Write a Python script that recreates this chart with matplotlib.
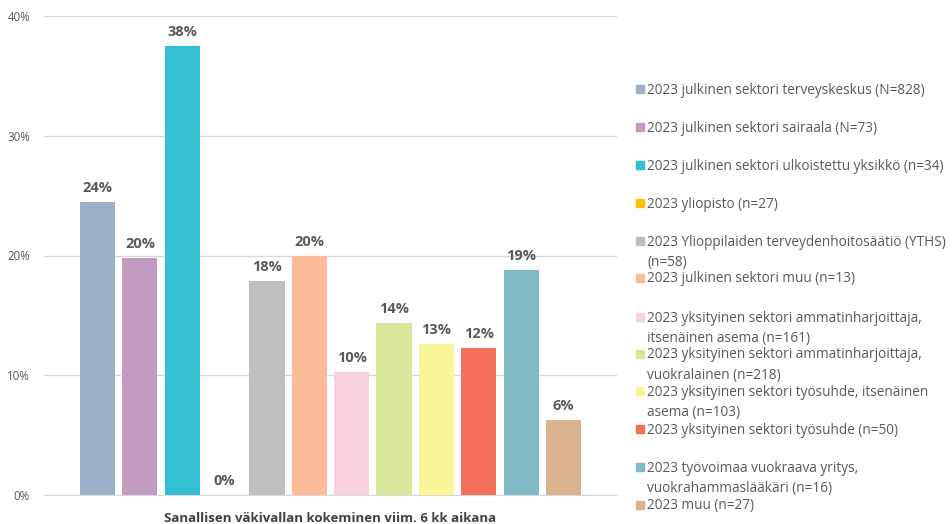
import matplotlib
matplotlib.use("Agg")
import matplotlib.pyplot as plt
from matplotlib.patches import Rectangle
from matplotlib.ticker import PercentFormatter

plt.rcParams["font.family"] = ["Open Sans", "DejaVu Sans"]

labels = [
    "2023 julkinen sektori terveyskeskus (N=828)",
    "2023 julkinen sektori sairaala (N=73)",
    "2023 julkinen sektori ulkoistettu yksikkö (n=34)",
    "2023 yliopisto (n=27)",
    "2023 Ylioppilaiden terveydenhoitosäätiö (YTHS)\n(n=58)",
    "2023 julkinen sektori muu (n=13)",
    "2023 yksityinen sektori ammatinharjoittaja,\nitsenäinen asema (n=161)",
    "2023 yksityinen sektori ammatinharjoittaja,\nvuokralainen (n=218)",
    "2023 yksityinen sektori työsuhde, itsenäinen\nasema (n=103)",
    "2023 yksityinen sektori työsuhde (n=50)",
    "2023 työvoimaa vuokraava yritys,\nvuokrahammaslääkäri (n=16)",
    "2023 muu (n=27)",
]
values = [0.245, 0.198, 0.375, 0.0, 0.179, 0.200, 0.103, 0.144, 0.126, 0.123, 0.188, 0.063]
value_text = ["24%", "20%", "38%", "0%", "18%", "20%", "10%", "14%", "13%", "12%", "19%", "6%"]
colors = ["#9cb0c8", "#c29bc0", "#33bfd4", "#ffc000", "#bfbfbf", "#fdbb98",
          "#f9d0e0", "#d7e89a", "#fbf59a", "#f47058", "#80bac4", "#dbb28e"]
xlabel = "Sanallisen väkivallan kokeminen viim. 6 kk aikana"

W, H = 952, 524
fig = plt.figure(figsize=(W / 100, H / 100), dpi=100)
ax = fig.add_axes([44 / W, 1 - 495 / H, (617 - 44) / W, (495 - 16) / H])

xs = range(len(values))
ax.bar(xs, values, width=0.83, color=colors)
for x, v, t in zip(xs, values, value_text):
    ax.annotate(t, (x, v), xytext=(0, 5), textcoords="offset points",
                ha="center", va="bottom", fontsize=10.5, fontweight="bold",
                color="#595959")

ax.set_xlim(-1.265, len(values) - 1 + 1.265)
ax.set_ylim(0, 0.40)
ax.set_yticks([0, 0.1, 0.2, 0.3, 0.4])
ax.yaxis.set_major_formatter(PercentFormatter(1.0, decimals=0))
ax.tick_params(axis="y", length=0, pad=10, labelsize=8.3, labelcolor="#595959")
ax.set_xticks([])
ax.grid(axis="y", color="#d9d9d9", lw=1)
ax.set_axisbelow(True)
for s in ["top", "right", "left"]:
    ax.spines[s].set_visible(False)
ax.spines["bottom"].set_color("#d9d9d9")
ax.set_xlabel(xlabel, fontsize=9.5, fontweight="bold", color="#404040", labelpad=12)

# legend drawn by hand: each entry has a swatch and a (possibly wrapped) label
entry_y = [89, 127, 165, 203, 241, 278, 317, 354, 391, 429, 467, 505]
for y, lab, c in zip(entry_y, labels, colors):
    fig.patches.append(Rectangle((636 / W, 1 - (y + 4) / H), 8 / W, 8 / H,
                                 transform=fig.transFigure, color=c))
    fig.text(647 / W, 1 - (y - 6.5) / H, lab, fontsize=9.8, color="#595959",
             va="top", ha="left", linespacing=1.5)

fig.savefig("out.png", dpi=100)
